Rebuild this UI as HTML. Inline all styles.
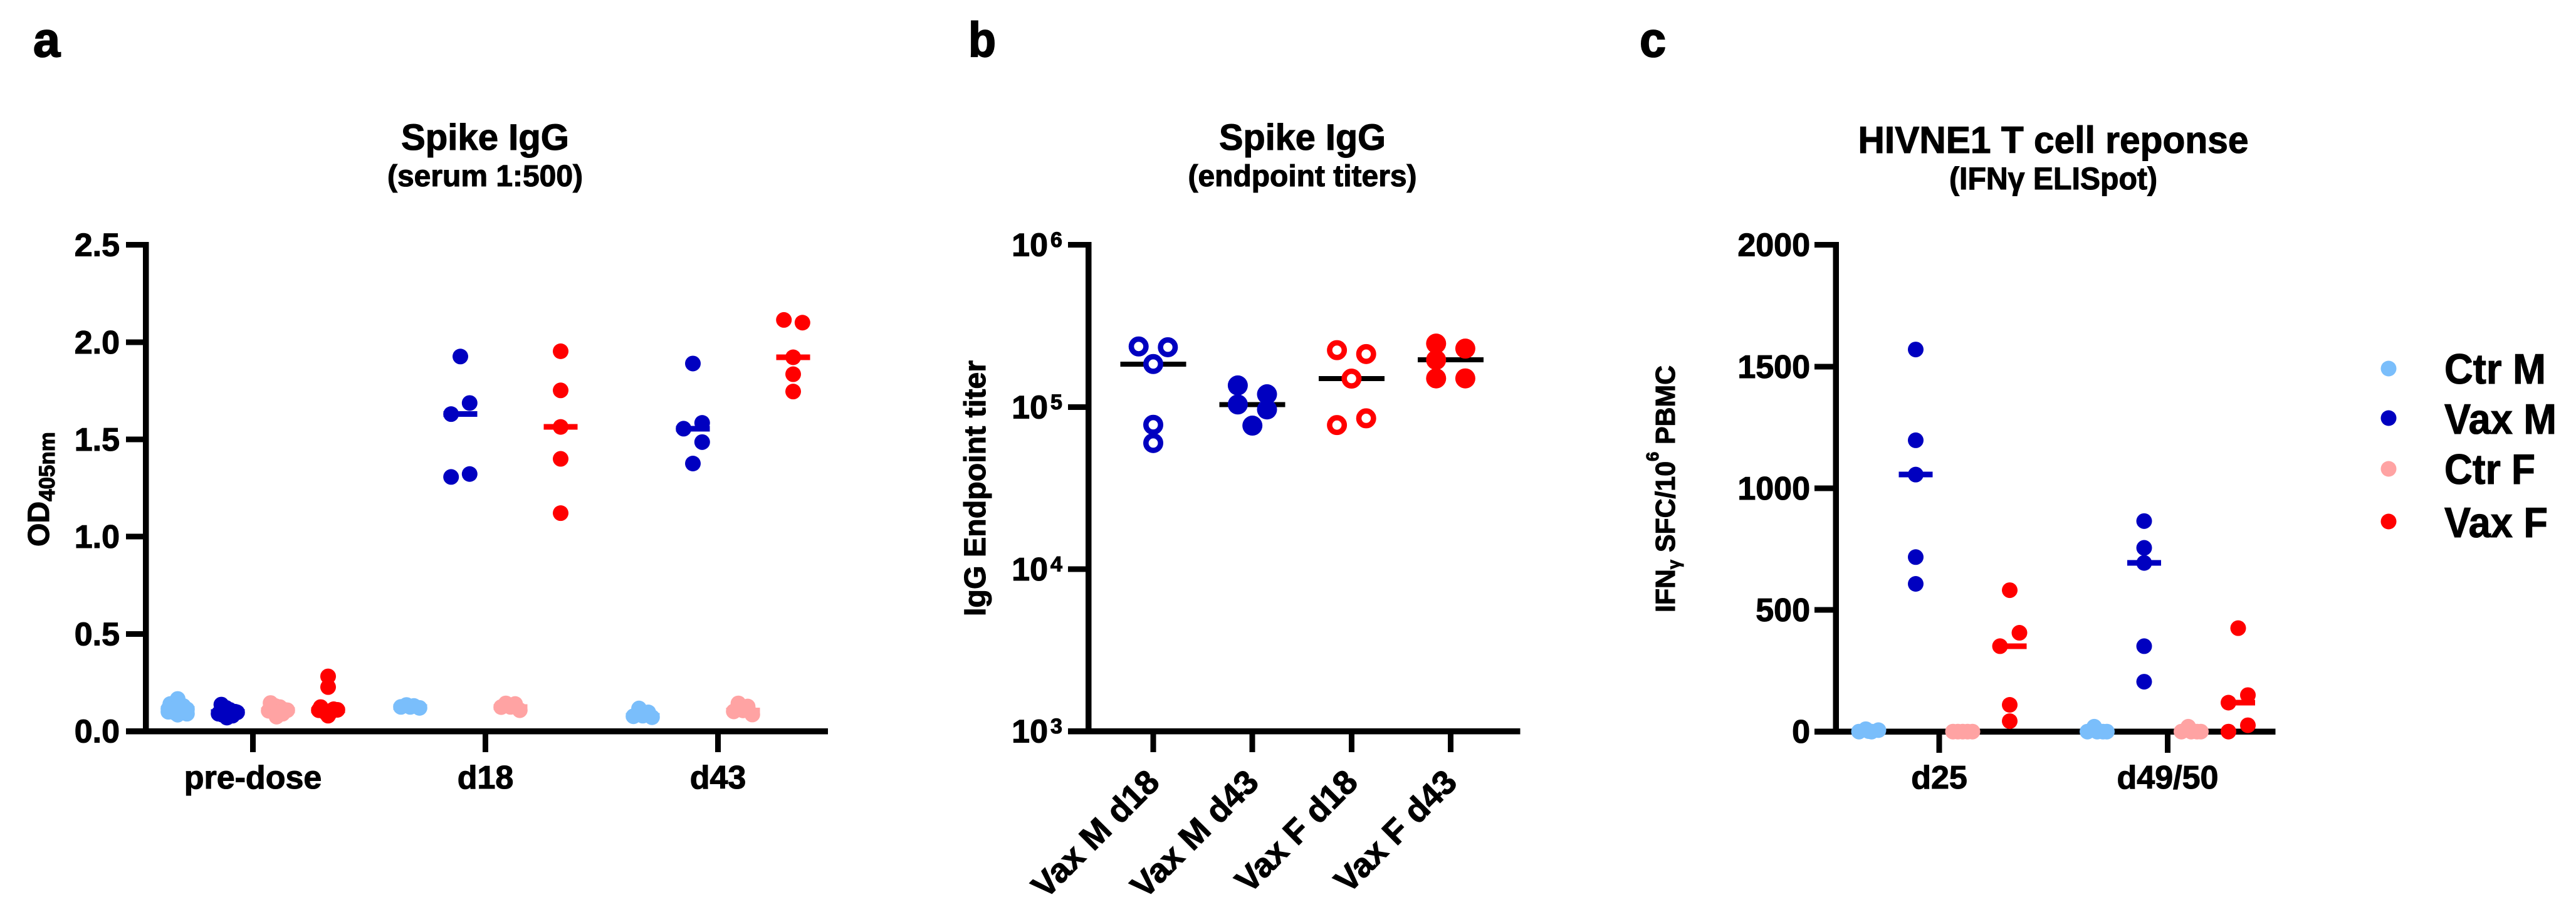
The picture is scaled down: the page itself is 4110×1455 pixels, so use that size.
<!DOCTYPE html>
<html lang="en">
<head>
<meta charset="utf-8">
<title>Spike IgG and HIVNE1 T cell response</title>
<style>
html,body{margin:0;padding:0;background:#fff;}
svg{display:block;}
text{font-family:"Liberation Sans",sans-serif;font-weight:bold;fill:#000;stroke:#000;stroke-width:1.1px;}
</style>
</head>
<body>
<svg id="figure" xmlns="http://www.w3.org/2000/svg" width="4110" height="1455" viewBox="0 0 4110 1455">
  <rect width="4110" height="1455" fill="#fff"/>
  <text x="53" y="90" font-size="78" textLength="43" lengthAdjust="spacingAndGlyphs" style="stroke-width:2px">a</text>
  <text x="1545" y="90" font-size="78" textLength="44" lengthAdjust="spacingAndGlyphs" style="stroke-width:2px">b</text>
  <text x="2616" y="90" font-size="78" textLength="42" lengthAdjust="spacingAndGlyphs" style="stroke-width:2px">c</text>

  <text x="774" y="239" font-size="58" text-anchor="middle" textLength="268" lengthAdjust="spacingAndGlyphs">Spike IgG</text>
  <text x="774" y="297" font-size="48" text-anchor="middle" textLength="312" lengthAdjust="spacingAndGlyphs">(serum 1:500)</text>
  <text x="2078" y="239" font-size="58" text-anchor="middle" textLength="266" lengthAdjust="spacingAndGlyphs">Spike IgG</text>
  <text x="2078" y="297" font-size="48" text-anchor="middle" textLength="365" lengthAdjust="spacingAndGlyphs">(endpoint titers)</text>
  <text x="3276" y="244" font-size="60" text-anchor="middle" textLength="623" lengthAdjust="spacingAndGlyphs">HIVNE1 T cell reponse</text>
  <text x="3276" y="302" font-size="50" text-anchor="middle" textLength="332" lengthAdjust="spacingAndGlyphs">(IFNγ ELISpot)</text>

  <text transform="translate(78 872) rotate(-90)" font-size="48">OD<tspan dy="9" font-size="35">405nm</tspan></text>
  <text transform="translate(1572 983) rotate(-90)" font-size="48" textLength="408" lengthAdjust="spacingAndGlyphs">IgG Endpoint titer</text>
  <text transform="translate(2672 977) rotate(-90)" font-size="44" textLength="394" lengthAdjust="spacingAndGlyphs">IFN<tspan dy="8" font-size="28">γ</tspan><tspan dy="-8"> SFC/10</tspan><tspan dy="-26" font-size="28">6</tspan><tspan dy="26"> PBMC</tspan></text>

  <g id="panel-a"></g>
  <g id="panel-b"></g>
  <g id="panel-c"></g>

  <g>
    <g>
      <circle cx="3811" cy="588" r="12.5" fill="#7abefb"/>
      <text x="3900" y="612" font-size="68" textLength="162" lengthAdjust="spacingAndGlyphs">Ctr M</text>
    </g>
    <g>
      <circle cx="3811" cy="667" r="12.5" fill="#0000c0"/>
      <text x="3900" y="692" font-size="68" textLength="179" lengthAdjust="spacingAndGlyphs">Vax M</text>
    </g>
    <g>
      <circle cx="3811" cy="748" r="12.5" fill="#ffa3a3"/>
      <text x="3900" y="772" font-size="68" textLength="145" lengthAdjust="spacingAndGlyphs">Ctr F</text>
    </g>
    <g>
      <circle cx="3811" cy="832" r="12.5" fill="#ff0000"/>
      <text x="3900" y="857" font-size="68" textLength="165" lengthAdjust="spacingAndGlyphs">Vax F</text>
    </g>
  </g>
</svg>
<script>
// ---------- Panel a: Spike IgG OD405 ----------
const aCategories = ['pre-dose', 'd18', 'd43'];
const aTicks = [0, 0.5, 1, 1.5, 2, 2.5];
const aTickLabels = ['0.0', '0.5', '1.0', '1.5', '2.0', '2.5'];

const aPreCtrM = [0.166, 0.14, 0.115, 0.113, 0.09, 0.085, 0.12, 0.1, 0.13, 0.095];
const aPreCtrMSwarm = [0, -0.8, -1, 1, 1, 0, 0, -1, 0.6, -0.3];
const aPreVaxM = [0.137, 0.09, 0.097, 0.11, 0.07, 0.1, 0.12, 0.08, 0.085, 0.105];
const aPreVaxMSwarm = [-0.7, -1, 1, 0.2, -0.1, 0.8, -0.2, 0.5, -0.6, 0];
const aPreCtrF = [0.145, 0.105, 0.108, 0.124, 0.075, 0.12, 0.09, 0.11, 0.13, 0.1];
const aPreCtrFSwarm = [-0.8, -1, 1, 0.2, -0.15, -0.5, 0.5, 0.7, -0.3, 0];
const aPreVaxF = [0.282, 0.227, 0.124, 0.11, 0.108, 0.08, 0.113, 0.1, 0.105, 0.095];
const aPreVaxFSwarm = [0, 0, -0.8, 1, -1, 0, 0.6, -0.4, 0.3, 0.2];

const aD18CtrM = [0.125, 0.135, 0.12, 0.13, 0.125];
const aD18CtrMSwarm = [-1, -0.4, 1, 0.4, 0];
const aD18VaxM = [1.926, 1.687, 1.63, 1.322, 1.307];
const aD18VaxMSwarm = [0, 1, -1, 1, -1];
const aD18CtrF = [0.124, 0.143, 0.14, 0.108, 0.125];
const aD18CtrFSwarm = [-1, -0.5, 0.5, 1, 0];
const aD18VaxF = [1.953, 1.752, 1.564, 1.4, 1.121];
const aD18VaxFSwarm = [0, 0, 0, 0, 0];

const aD43CtrM = [0.117, 0.077, 0.072, 0.097, 0.08];
const aD43CtrMSwarm = [-0.4, -1, 1, 0.6, 0];
const aD43VaxM = [1.89, 1.585, 1.555, 1.486, 1.376];
const aD43VaxMSwarm = [0, 1, -1, 1, 0];
const aD43CtrF = [0.143, 0.127, 0.102, 0.086, 0.107];
const aD43CtrFSwarm = [-0.5, 0.5, -1, 1, 0];
const aD43VaxF = [2.114, 2.1, 1.922, 1.835, 1.746];
const aD43VaxFSwarm = [-1, 1, 0, 0, 0];

// ---------- Panel b: endpoint titers ----------
const bCategories = ['Vax M d18', 'Vax M d43', 'Vax F d18', 'Vax F d43'];
const bTicks = [1000, 10000, 100000, 1000000];
const bTickExponents = ['3', '4', '5', '6'];

const bVaxMD18 = [236000, 233500, 184000, 77600, 59900];
const bVaxMD18Swarm = [-1, 1, 0, 0, 0];
const bVaxMD43 = [135800, 103600, 119700, 96500, 76700];
const bVaxMD43Swarm = [-1, -1, 1, 1, 0];
const bVaxFD18 = [224000, 212000, 149600, 85100, 77300];
const bVaxFD18Swarm = [-1, 1, 0, 1, -1];
const bVaxFD43 = [246000, 229000, 195000, 150000, 150000];
const bVaxFD43Swarm = [-1, 1, -1, -1, 1];

// ---------- Panel c: IFN-gamma ELISpot ----------
const cCategories = ['d25', 'd49/50'];
const cTicks = [0, 500, 1000, 1500, 2000];
const cTickLabels = ['0', '500', '1000', '1500', '2000'];

const cD25CtrM = [0, 10, 0, 6, 2];
const cD25CtrMSwarm = [-1, -0.3, 0.3, 1, 0];
const cD25VaxM = [1570, 1197, 1056, 717, 607];
const cD25VaxMSwarm = [0, 0, 0, 0, 0];
const cD25CtrF = [0, 0, 0, 0, 0];
const cD25CtrFSwarm = [-1, -0.5, 0, 0.5, 1];
const cD25VaxF = [581, 406, 351, 110, 43];
const cD25VaxFSwarm = [0, 1, -1, 0, 0];

const cD49CtrM = [0, 20, 0, 0, 0];
const cD49CtrMSwarm = [-1, -0.3, 0, 0.6, 1];
const cD49VaxM = [865, 755, 693, 351, 205];
const cD49VaxMSwarm = [0, 0, 0, 0, 0];
const cD49CtrF = [0, 20, 0, 0, 0];
const cD49CtrFSwarm = [-1, -0.3, 0, 0.6, 1];
const cD49VaxF = [425, 150, 119, 26, 0];
const cD49VaxFSwarm = [0, 1, -1, 1, -1];

const colorCtrM = '#7abefb';
const colorVaxM = '#0000c0';
const colorCtrF = '#ffa3a3';
const colorVaxF = '#ff0000';

const SVGNS = 'http://www.w3.org/2000/svg';

function median(values) {
  const s = values.slice().sort(function (p, q) { return p - q; });
  const m = Math.floor(s.length / 2);
  return s.length % 2 ? s[m] : (s[m - 1] + s[m]) / 2;
}
function line(parent, name, x1, y1, x2, y2, w, color) {
  const el = document.createElementNS(SVGNS, 'line');
  
  
  el.setAttribute('x1', x1);
  el.setAttribute('y1', y1);
  el.setAttribute('x2', x2);
  el.setAttribute('y2', y2);
  el.setAttribute('stroke', color);
  el.setAttribute('stroke-width', w);
  el.setAttribute('shape-rendering', 'crispEdges');
  parent.appendChild(el);
  return el;
}
function dot(parent, name, cx, cy, r, fill, stroke, sw) {
  const el = document.createElementNS(SVGNS, 'circle');
  
  
  el.setAttribute('cx', cx);
  el.setAttribute('cy', cy);
  el.setAttribute('r', r);
  el.setAttribute('fill', fill);
  if (stroke) {
    el.setAttribute('stroke', stroke);
    el.setAttribute('stroke-width', sw);
  }
  parent.appendChild(el);
  return el;
}
function label(parent, name, x, y, str, size, anchor, transform) {
  const el = document.createElementNS(SVGNS, 'text');
  
  
  el.setAttribute('x', x);
  el.setAttribute('y', y);
  el.setAttribute('font-size', size);
  el.setAttribute('text-anchor', anchor);
  if (transform) el.setAttribute('transform', transform);
  el.textContent = str;
  parent.appendChild(el);
  return el;
}
function frame(parent, prefix, axisX, axisY, topY, leftX, rightX) {
  line(parent, prefix + '-y-axis-line', axisX, topY - 4.5, axisX, axisY + 4.5, 9.5, '#000');
  line(parent, prefix + '-x-axis-line', leftX, axisY, rightX, axisY, 9.5, '#000');
}
function series(parent, name, xc, values, swarm, step, yFn, halfW, lineColor, lineW, r, fill, stroke, sw) {
  const med = median(values);
  line(parent, name + '-median-line', xc - halfW, yFn(med), xc + halfW, yFn(med), lineW, lineColor);
  values.forEach(function (v, i) {
    dot(parent, name + '-point', xc + swarm[i] * step, yFn(v), r, fill, stroke, sw);
  });
}

// ---------- draw panel a ----------
(function () {
  const g = document.getElementById('panel-a');
  const y = function (v) { return 1166.6 - v * 310.4; };
  const catX = function (i) { return 403.5 + i * 371; };
  const grpX = function (i, j) { return catX(i) + (j - 1.5) * 80; };
  frame(g, 'panel-a', 232.5, y(0), y(2.5), 201, 1321);
  aTicks.forEach(function (t, i) {
    line(g, 'panel-a-y-tick', 201, y(t), 232, y(t), 9, '#000');
    label(g, 'panel-a-y-tick-label', 191, y(t) + 18, aTickLabels[i], 52, 'end');
  });
  aCategories.forEach(function (c, i) {
    line(g, 'panel-a-x-tick', catX(i), y(0), catX(i), 1200, 9, '#000');
    label(g, 'panel-a-x-tick-label', catX(i), 1258, c, 52, 'middle');
  });
  const s = 14.8, hw = 26.8, lw = 9, r = 12.5;
  series(g, 'pre-dose-ctr-m', grpX(0, 0), aPreCtrM, aPreCtrMSwarm, s, y, hw, colorCtrM, lw, r, colorCtrM);
  series(g, 'pre-dose-vax-m', grpX(0, 1), aPreVaxM, aPreVaxMSwarm, s, y, hw, colorVaxM, lw, r, colorVaxM);
  series(g, 'pre-dose-ctr-f', grpX(0, 2), aPreCtrF, aPreCtrFSwarm, s, y, hw, colorCtrF, lw, r, colorCtrF);
  series(g, 'pre-dose-vax-f', grpX(0, 3), aPreVaxF, aPreVaxFSwarm, s, y, hw, colorVaxF, lw, r, colorVaxF);
  series(g, 'd18-ctr-m', grpX(1, 0), aD18CtrM, aD18CtrMSwarm, s, y, hw, colorCtrM, lw, r, colorCtrM);
  series(g, 'd18-vax-m', grpX(1, 1), aD18VaxM, aD18VaxMSwarm, s, y, hw, colorVaxM, lw, r, colorVaxM);
  series(g, 'd18-ctr-f', grpX(1, 2), aD18CtrF, aD18CtrFSwarm, s, y, hw, colorCtrF, lw, r, colorCtrF);
  series(g, 'd18-vax-f', grpX(1, 3), aD18VaxF, aD18VaxFSwarm, s, y, hw, colorVaxF, lw, r, colorVaxF);
  series(g, 'd43-ctr-m', grpX(2, 0), aD43CtrM, aD43CtrMSwarm, s, y, hw, colorCtrM, lw, r, colorCtrM);
  series(g, 'd43-vax-m', grpX(2, 1), aD43VaxM, aD43VaxMSwarm, s, y, hw, colorVaxM, lw, r, colorVaxM);
  series(g, 'd43-ctr-f', grpX(2, 2), aD43CtrF, aD43CtrFSwarm, s, y, hw, colorCtrF, lw, r, colorCtrF);
  series(g, 'd43-vax-f', grpX(2, 3), aD43VaxF, aD43VaxFSwarm, s, y, hw, colorVaxF, lw, r, colorVaxF);
})();

// ---------- draw panel b ----------
(function () {
  const g = document.getElementById('panel-b');
  const y = function (v) { return 1166.6 - (Math.log10(v) - 3) * 258.67; };
  const catX = function (i) { return 1840 + i * 158.2; };
  frame(g, 'panel-b', 1736.7, y(1000), y(1000000), 1704, 2425.5);
  bTicks.forEach(function (t, i) {
    line(g, 'panel-b-y-tick', 1704, y(t), 1736, y(t), 9, '#000');
    label(g, 'panel-b-y-tick-label', 1672, y(t) + 18, '10', 52, 'end');
    label(g, 'panel-b-y-tick-exponent', 1676, y(t) + 3.5, bTickExponents[i], 34, 'start');
  });
  bCategories.forEach(function (c, i) {
    line(g, 'panel-b-x-tick', catX(i), y(1000), catX(i), 1200, 9, '#000');
    const ex = catX(i) + 13, ey = 1251;
    label(g, 'panel-b-x-tick-label', ex, ey, c, 54, 'end', 'rotate(-45 ' + ex + ' ' + ey + ')');
  });
  const s = 23.3, hw = 52.5, lw = 8;
  series(g, 'vax-m-d18', catX(0), bVaxMD18, bVaxMD18Swarm, s, y, hw, '#000', lw, 11.7, '#fff', colorVaxM, 8.6);
  series(g, 'vax-m-d43', catX(1), bVaxMD43, bVaxMD43Swarm, s, y, hw, '#000', lw, 16, colorVaxM);
  series(g, 'vax-f-d18', catX(2), bVaxFD18, bVaxFD18Swarm, s, y, hw, '#000', lw, 11.7, '#fff', colorVaxF, 8.6);
  series(g, 'vax-f-d43', catX(3), bVaxFD43, bVaxFD43Swarm, s, y, hw, '#000', lw, 16, colorVaxF);
})();

// ---------- draw panel c ----------
(function () {
  const g = document.getElementById('panel-c');
  const y = function (v) { return 1167.2 - v * 0.3883; };
  const catX = function (i) { return 3094 + i * 364.5; };
  const grpX = function (i, j) { return catX(i) + (j - 1.5) * 75; };
  frame(g, 'panel-c', 2929, y(0), y(2000), 2895, 3630.6);
  cTicks.forEach(function (t, i) {
    line(g, 'panel-c-y-tick', 2895, y(t), 2928, y(t), 9, '#000');
    label(g, 'panel-c-y-tick-label', 2888, y(t) + 18, cTickLabels[i], 52, 'end');
  });
  cCategories.forEach(function (c, i) {
    line(g, 'panel-c-x-tick', catX(i), y(0), catX(i), 1201, 9, '#000');
    label(g, 'panel-c-x-tick-label', catX(i), 1258, c, 52, 'middle');
  });
  const s = 15.5, hw = 27, lw = 9, r = 12.5;
  series(g, 'd25-ctr-m', grpX(0, 0), cD25CtrM, cD25CtrMSwarm, s, y, hw, colorCtrM, lw, r, colorCtrM);
  series(g, 'd25-vax-m', grpX(0, 1), cD25VaxM, cD25VaxMSwarm, s, y, hw, colorVaxM, lw, r, colorVaxM);
  series(g, 'd25-ctr-f', grpX(0, 2), cD25CtrF, cD25CtrFSwarm, s, y, hw, colorCtrF, lw, r, colorCtrF);
  series(g, 'd25-vax-f', grpX(0, 3), cD25VaxF, cD25VaxFSwarm, s, y, hw, colorVaxF, lw, r, colorVaxF);
  series(g, 'd49-ctr-m', grpX(1, 0), cD49CtrM, cD49CtrMSwarm, s, y, hw, colorCtrM, lw, r, colorCtrM);
  series(g, 'd49-vax-m', grpX(1, 1), cD49VaxM, cD49VaxMSwarm, s, y, hw, colorVaxM, lw, r, colorVaxM);
  series(g, 'd49-ctr-f', grpX(1, 2), cD49CtrF, cD49CtrFSwarm, s, y, hw, colorCtrF, lw, r, colorCtrF);
  series(g, 'd49-vax-f', grpX(1, 3), cD49VaxF, cD49VaxFSwarm, s, y, hw, colorVaxF, lw, r, colorVaxF);
})();
</script>
</body>
</html>
